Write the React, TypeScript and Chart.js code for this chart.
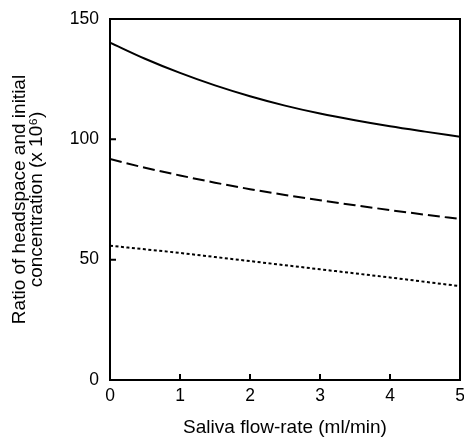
import React, { useEffect, useRef } from "react";
import { Chart, registerables } from "chart.js";

Chart.register(...registerables);

const flowRates = [0, 0.5, 1, 1.5, 2, 2.5, 3, 3.5, 4, 4.5, 5];
const solidSeries = [140.2, 133.5, 127.6, 122.4, 117.9, 114.0, 110.7, 107.9, 105.4, 103.2, 101.1];
const dashedSeries = [91.8, 88.2, 85.0, 82.0, 79.3, 76.9, 74.7, 72.6, 70.6, 68.7, 66.9];
const dottedSeries = [55.8, 54.3, 52.8, 51.1, 49.4, 47.7, 46.0, 44.3, 42.6, 40.8, 39.0];
const xTicks = [0, 1, 2, 3, 4, 5];
const yTicks = [0, 50, 100, 150];
const xTitle = "Saliva flow-rate (ml/min)";
const yTitle = ["Ratio of headspace and initial", "concentration (x 10\u2076)"];

const FONT = "'Liberation Sans', Arial, Helvetica, sans-serif";

const framePlugin = {
  id: "frameAndInwardTicks",
  afterDraw(chart: any) {
    const { ctx, chartArea } = chart;
    const xs = chart.scales.x;
    const ys = chart.scales.y;
    ctx.save();
    ctx.strokeStyle = "#000";
    ctx.lineWidth = 2;
    ctx.strokeRect(chartArea.left, chartArea.top, chartArea.right - chartArea.left, chartArea.bottom - chartArea.top);
    ctx.beginPath();
    xTicks.forEach((v) => {
      const px = xs.getPixelForValue(v);
      ctx.moveTo(px, chartArea.bottom);
      ctx.lineTo(px, chartArea.bottom - 6);
    });
    yTicks.forEach((v) => {
      const py = ys.getPixelForValue(v);
      ctx.moveTo(chartArea.left, py);
      ctx.lineTo(chartArea.left + 6, py);
    });
    ctx.stroke();
    ctx.restore();
  },
};

export default function App() {
  const ref = useRef<HTMLCanvasElement | null>(null);
  useEffect(() => {
    if (!ref.current) return;
    const mk = (data: number[]) => flowRates.map((x, i) => ({ x, y: data[i] }));
    const chart = new Chart(ref.current, {
      type: "line",
      data: {
        datasets: [
          { data: mk(solidSeries), borderColor: "#000", borderWidth: 2, pointRadius: 0, cubicInterpolationMode: "monotone", fill: false },
          { data: mk(dashedSeries), borderColor: "#000", borderWidth: 2, borderDash: [12, 5], pointRadius: 0, cubicInterpolationMode: "monotone", fill: false },
          { data: mk(dottedSeries), borderColor: "#000", borderWidth: 2, borderDash: [3, 2.5], pointRadius: 0, cubicInterpolationMode: "monotone", fill: false },
        ],
      },
      options: {
        responsive: false,
        animation: false,
        layout: { padding: { top: 19, right: 4, left: 0, bottom: 0 } },
        plugins: { legend: { display: false }, tooltip: { enabled: false } },
        scales: {
          x: {
            type: "linear",
            min: 0,
            max: 5,
            afterBuildTicks: (s: any) => { s.ticks = xTicks.map((v) => ({ value: v })); },
            afterFit: (s: any) => { s.height = 59; s.paddingLeft = 0; s.paddingRight = 0; },
            grid: { display: false, drawTicks: false },
            border: { display: false },
            ticks: { color: "#000", padding: 6, maxRotation: 0, font: { family: FONT, size: 17.5 } },
            title: { display: true, text: xTitle, color: "#000", padding: { top: 0, bottom: 0 }, font: { family: FONT, size: 19 } },
          },
          y: {
            type: "linear",
            min: 0,
            max: 150,
            afterBuildTicks: (s: any) => { s.ticks = yTicks.map((v) => ({ value: v })); },
            afterFit: (s: any) => { s.width = 110; s.paddingTop = 0; s.paddingBottom = 0; },
            grid: { display: false, drawTicks: false },
            border: { display: false },
            ticks: { color: "#000", padding: 11, font: { family: FONT, size: 17.5 } },
            title: { display: true, text: yTitle, color: "#000", padding: { top: 12, bottom: 0 }, font: { family: FONT, size: 19, lineHeight: "16.5px" } },
          },
        },
      },
      plugins: [framePlugin],
    } as any);
    return () => chart.destroy();
  }, []);
  return (
    <div style={{ position: "absolute", left: 0, top: 0, width: 464, height: 439, background: "#fff" }}>
      <canvas ref={ref} width={464} height={439} style={{ display: "block" }} />
    </div>
  );
}
